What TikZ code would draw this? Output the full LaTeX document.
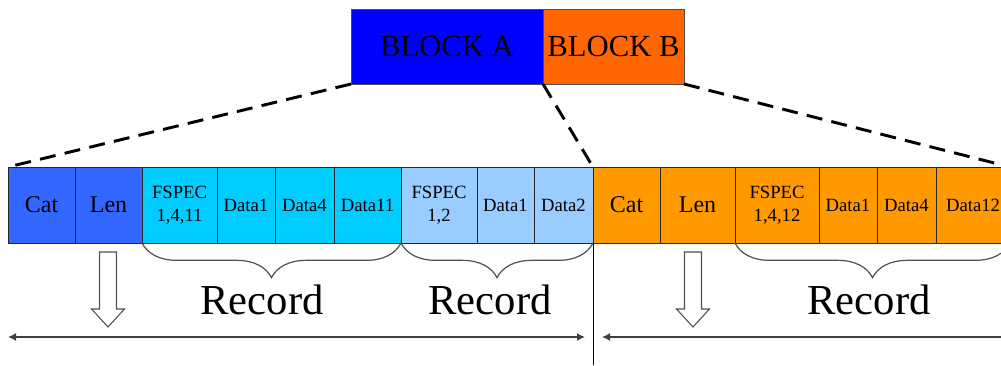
\documentclass[tikz,border=0pt]{standalone}
\usepackage{fontspec}
\setmainfont{Liberation Serif}
\definecolor{blka}{RGB}{0,0,255}
\definecolor{blkb}{RGB}{255,102,0}
\definecolor{hdrblue}{RGB}{51,102,255}
\definecolor{reccyan}{RGB}{0,204,255}
\definecolor{reclight}{RGB}{153,204,255}
\definecolor{recorange}{RGB}{255,153,0}
\definecolor{linegrey}{RGB}{80,80,80}
\usetikzlibrary{arrows.meta,positioning,decorations.pathreplacing}

\begin{document}
\begin{tikzpicture}[x=0.75pt, y=-0.75pt,
    cell/.style={draw=black!85, line width=0.6pt, minimum height=57pt, inner sep=0pt, outer sep=0pt, align=center, font=\fontsize{14}{17}\selectfont},
    hdr/.style={cell, font=\fontsize{18}{20}\selectfont},
    blockbox/.style={draw=black!70, line width=0.6pt, minimum height=56.25pt, inner sep=0pt, outer sep=0pt, font=\fontsize{23}{25}\selectfont},
    zoomline/.style={line width=2.2pt, dash pattern=on 12pt off 7pt},
    recbrace/.style={decorate, decoration={brace, mirror, amplitude=26pt}, draw=linegrey, line width=0.9pt},
    reclabel/.style={font=\fontsize{32}{34}\selectfont, anchor=base, inner sep=0pt},
    span/.style={draw=black!75, line width=1.1pt, {Latex[length=6pt,width=6pt]}-{Latex[length=6pt,width=6pt]}},
    downarrow/.pic={\draw[linegrey, line width=0.8pt, fill=white] (-8.5,0) -- (-8.5,57) -- (-16.5,57) -- (0,75) -- (16.5,57) -- (8.5,57) -- (8.5,0) -- cycle;}]
    \clip (0,0) rectangle (1001,365);

    % Blocks
    \node[blockbox, fill=blka, minimum width=144pt, anchor=north west] (blocka) at (351,9) {BLOCK A};
    \node[blockbox, fill=blkb, minimum width=105.75pt, right=0pt of blocka] (blockb) {BLOCK B};

    % Data block A
    \node[hdr, fill=hdrblue, minimum width=50.25pt, anchor=north west] (cat1) at (8,167) {Cat};
    \node[hdr, fill=hdrblue, minimum width=50.25pt, right=0pt of cat1] (len1) {Len};
    \node[cell, fill=reccyan, minimum width=56.25pt, right=0pt of len1] (fspec1) {FSPEC\\1,4,11};
    \node[cell, fill=reccyan, minimum width=43.5pt, right=0pt of fspec1] (data1a) {Data1};
    \node[cell, fill=reccyan, minimum width=44.25pt, right=0pt of data1a] (data4a) {Data4};
    \node[cell, fill=reccyan, minimum width=50.25pt, right=0pt of data4a] (data11) {Data11};
    \node[cell, fill=reclight, minimum width=57pt, right=0pt of data11] (fspec2) {FSPEC\\1,2};
    \node[cell, fill=reclight, minimum width=42.75pt, right=0pt of fspec2] (data1b) {Data1};
    \node[cell, fill=reclight, minimum width=44.25pt, right=0pt of data1b] (data2) {Data2};

    % Data block B
    \node[hdr, fill=recorange, minimum width=50.25pt, right=0pt of data2] (cat2) {Cat};
    \node[hdr, fill=recorange, minimum width=56.25pt, right=0pt of cat2] (len2) {Len};
    \node[cell, fill=recorange, minimum width=63pt, right=0pt of len2] (fspec3) {FSPEC\\1,4,12};
    \node[cell, fill=recorange, minimum width=43.5pt, right=0pt of fspec3] (data1c) {Data1};
    \node[cell, fill=recorange, minimum width=44.25pt, right=0pt of data1c] (data4c) {Data4};
    \node[cell, fill=recorange, minimum width=55.5pt, right=0pt of data4c] (data12) {Data12};

    % Zoom lines
    \draw[zoomline] (blocka.south west) -- (cat1.north west);
    \draw[zoomline] (blocka.south east) -- (cat2.north west);
    \draw[zoomline] (blockb.south east) -- (data12.north east);

    % Records
    \draw[recbrace] (fspec1.south west) -- (data11.south east);
    \draw[recbrace] (fspec2.south west) -- (data2.south east);
    \draw[recbrace] (fspec3.south west) -- (data12.south east);
    \node[reclabel] (rec1) at (262,314) {Record};
    \node[reclabel] (rec2) at (490,314) {Record};
    \node[reclabel] (rec3) at (869,314) {Record};

    % Lengths
    \pic at (108,252) {downarrow};
    \pic at (693,252) {downarrow};
    \coordinate (sepbot) at (593,365);
    \draw[line width=0.7pt] (data2.south east) -- (sepbot);
    \coordinate (spana) at (8,337);
    \coordinate (spanb) at (585,337);
    \coordinate (spanc) at (602,337);
    \coordinate (spand) at (1020,337);
    \draw[span] (spana) -- (spanb);
    \draw[span] (spanc) -- (spand);
\end{tikzpicture}
\end{document}
